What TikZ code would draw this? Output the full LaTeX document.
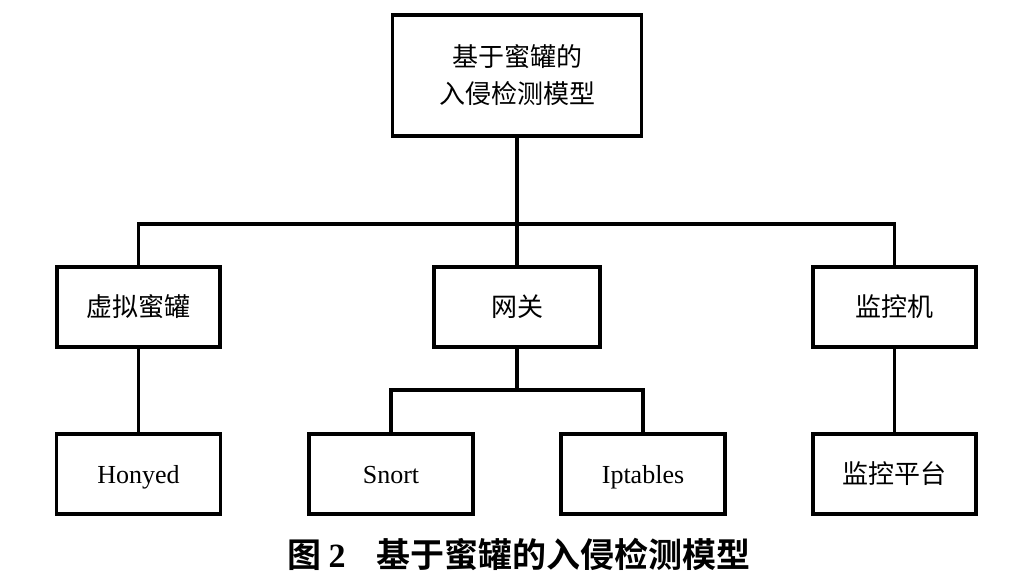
\documentclass[tikz,border=0pt]{standalone}
\usepackage{fontspec}
\setmainfont{Liberation Serif}
\newfontfamily\cjk{Noto Sans CJK SC}[BoldFont={Noto Sans CJK SC Bold}]
\begin{document}
\begin{tikzpicture}[x=1pt,y=-1pt,
  box/.style={draw=black,line width=3.5pt,fill=white,inner sep=0pt,align=center,
    minimum height=80pt,text height=21.5pt,text depth=3.5pt,font=\fontsize{26}{37}\selectfont},
  link/.style={line width=3.5pt,line cap=rect}]
\useasboundingbox[fill=white] (0,0) rectangle (1025,580);
\node[box,minimum width=249pt,minimum height=121pt,text height=,text depth=] (top) at (517,75.5) {{\cjk 基于蜜罐的}\\{\cjk 入侵检测模型}};
\node[box,minimum width=163pt] (m1) at (138.5,307) {\cjk 虚拟蜜罐};
\node[box,minimum width=166pt] (m2) at (517,307) {\cjk 网关};
\node[box,minimum width=163pt] (m3) at (894.5,307) {\cjk 监控机};
\node[box,minimum width=164pt] (b1) at (138.5,474) {Honyed};
\node[box,minimum width=164pt] (b2) at (391,474) {Snort};
\node[box,minimum width=164pt] (b3) at (643,474) {Iptables};
\node[box,minimum width=163pt] (b4) at (894.5,474) {\cjk 监控平台};
\coordinate (bus) at (517,224);
\coordinate (bus2) at (517,390);
\draw[link] (top.south) -- (bus);
\draw[link] (m1.north) |- (bus) -| (m3.north);
\draw[link] (bus) -- (m2.north);
\draw[link] (m1.south) -- (b1.north);
\draw[link] (m3.south) -- (b4.north);
\draw[link] (m2.south) -- (bus2);
\draw[link] (b2.north) |- (bus2) -| (b3.north);
\node[font=\fontsize{34}{40}\selectfont\bfseries] (cap) at (519,554) {{\cjk 图}\hspace{0.2em}2\hspace{0.9em}{\cjk 基于蜜罐的入侵检测模型}};
\end{tikzpicture}
\end{document}
